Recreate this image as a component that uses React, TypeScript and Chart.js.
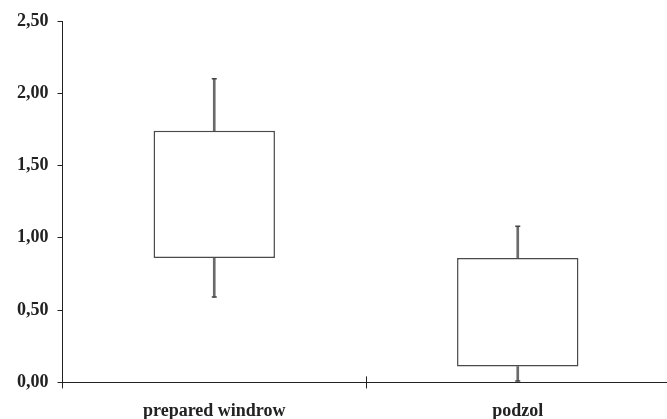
import React, { useEffect, useRef } from "react";
import { Chart, registerables } from "chart.js";

Chart.register(...registerables);

const categories = ["prepared windrow", "podzol"];
const whiskerMin = [0.59, 0.01];
const q1 = [0.86, 0.11];
const q3 = [1.74, 0.86];
const whiskerMax = [2.1, 1.08];
const yTicks = [0, 0.5, 1, 1.5, 2, 2.5];

const FONT = '"Liberation Serif", "Times New Roman", serif';

const dividerPlugin = {
  id: "divider",
  afterDraw(chart: any) {
    const x = chart.scales.x;
    const ctx = chart.ctx;
    const n = categories.length;
    ctx.save();
    ctx.strokeStyle = "#222";
    ctx.lineWidth = 1;
    for (let i = 1; i < n; i++) {
      const px = Math.round((x.getPixelForValue(i - 1) + x.getPixelForValue(i)) / 2) + 0.5;
      ctx.beginPath();
      ctx.moveTo(px, chart.chartArea.bottom - 6);
      ctx.lineTo(px, chart.chartArea.bottom);
      ctx.stroke();
    }
    ctx.restore();
  },
};

export default function App() {
  const ref = useRef<HTMLCanvasElement>(null);
  useEffect(() => {
    document.body.style.margin = "0";
    document.body.style.overflow = "hidden";
    const chart = new Chart(ref.current!, {
      type: "bar",
      data: {
        labels: categories,
        datasets: [
          {
            type: "bar",
            data: categories.map((_, i) => [q3[i], whiskerMax[i]]),
            backgroundColor: "#6a6a6a",
            barThickness: 2,
            grouped: false,
            order: 3,
          } as any,
          {
            type: "bar",
            data: categories.map((_, i) => [whiskerMin[i], q1[i]]),
            backgroundColor: "#6a6a6a",
            barThickness: 2,
            grouped: false,
            order: 3,
          } as any,
          {
            type: "bar",
            data: categories.map((_, i) => [q1[i], q3[i]]),
            backgroundColor: "#ffffff",
            borderColor: "#4a4a4a",
            borderWidth: 1.5,
            borderSkipped: false,
            barPercentage: 0.4,
            categoryPercentage: 1,
            grouped: false,
            order: 2,
          } as any,
          {
            type: "line",
            data: whiskerMax,
            showLine: false,
            pointStyle: "line",
            pointRadius: 2.5,
            borderColor: "#444",
            borderWidth: 1.5,
            order: 1,
          } as any,
          {
            type: "line",
            data: whiskerMin,
            showLine: false,
            pointStyle: "line",
            pointRadius: 2.5,
            borderColor: "#444",
            borderWidth: 1.5,
            order: 1,
          } as any,
        ],
      },
      options: {
        responsive: false,
        animation: false,
        layout: { padding: { left: 8, top: 21, right: 0, bottom: -15 } },
        plugins: { legend: { display: false }, tooltip: { enabled: false } },
        scales: {
          x: {
            offset: true,
            grid: {
              offset: true,
              drawOnChartArea: false,
              drawTicks: true,
              tickLength: 6,
              color: "#222",
            },
            border: { display: true, color: "#222", width: 1 },
            ticks: {
              padding: 12,
              color: "#222",
              font: { family: FONT, size: 18, weight: "bold" },
            },
          },
          y: {
            min: 0,
            max: 2.5,
            afterBuildTicks(axis: any) {
              axis.ticks = yTicks.map((v) => ({ value: v }));
            },
            grid: {
              drawOnChartArea: false,
              drawTicks: true,
              tickLength: 5,
              color: "#222",
            },
            border: { display: true, color: "#222", width: 1 },
            ticks: {
              padding: 9,
              color: "#222",
              font: { family: FONT, size: 18, weight: "bold" },
              callback: (v: any) => Number(v).toFixed(2).replace(".", ","),
            },
          },
        },
      },
      plugins: [dividerPlugin],
    });
    return () => chart.destroy();
  }, []);
  return (
    <div style={{ width: 667, height: 419, overflow: "hidden", position: "relative" }}>
      <canvas ref={ref} width={675} height={419} style={{ display: "block" }} />
    </div>
  );
}
